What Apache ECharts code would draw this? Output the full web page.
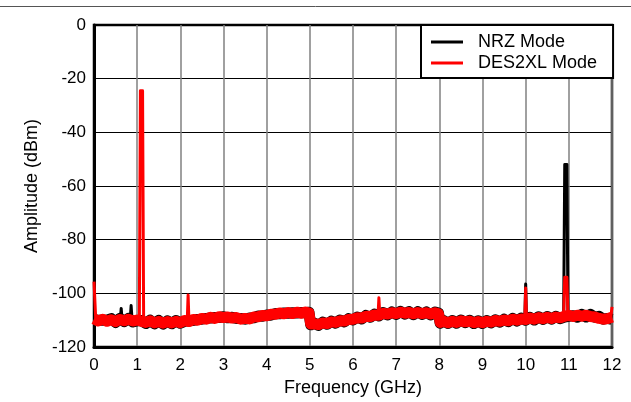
<!DOCTYPE html>
<html>
<head>
<meta charset="utf-8">
<script src="https://cdn.jsdelivr.net/npm/echarts@6/dist/echarts.min.js"></script>
<style>
html,body{margin:0;padding:0;background:#fff;}
#chart{width:631px;height:402px;}
</style>
</head>
<body>
<div id="chart"></div>
<script>
var xTicks = [0,1,2,3,4,5,6,7,8,9,10,11,12];
var yTicks = [0,-20,-40,-60,-80,-100,-120];
var seriesNames = ['NRZ Mode', 'DES2XL Mode'];

// Noise floor (broadband) samples, GHz
var floorFreq = [0,0.1,0.2,0.3,0.4,0.5,0.6,0.7,0.8,0.9,1.0,1.1,1.2,1.3,1.4,1.5,1.6,1.7,1.8,1.9,2.0,2.1,2.2,2.3,2.4,2.5,2.6,2.7,2.8,2.9,3.0,3.1,3.2,3.3,3.4,3.5,3.6,3.7,3.8,3.9,4.0,4.1,4.2,4.3,4.4,4.5,4.6,4.7,4.8,4.9,4.98,5.02,5.1,5.2,5.3,5.4,5.5,5.6,5.7,5.8,5.9,6.0,6.1,6.2,6.3,6.4,6.5,6.6,6.7,6.8,6.9,7.0,7.1,7.2,7.3,7.4,7.5,7.6,7.7,7.8,7.9,7.98,8.02,8.1,8.2,8.3,8.4,8.5,8.6,8.7,8.8,8.9,9.0,9.1,9.2,9.3,9.4,9.5,9.6,9.7,9.8,9.9,10.0,10.1,10.2,10.3,10.4,10.5,10.6,10.7,10.8,10.9,11.0,11.1,11.2,11.3,11.4,11.5,11.6,11.7,11.8,11.9,12.0];
var desFloor = [-109.5,-110.3,-109.6,-110.4,-109.8,-110.5,-109.7,-110.2,-109.6,-110.3,-109.9,-110.4,-110.8,-110.2,-111,-110.4,-111.1,-110.5,-111,-110.4,-110.9,-110.1,-110.5,-109.7,-110,-109.3,-109.6,-108.9,-109.3,-108.7,-109,-108.8,-109.2,-109,-109.6,-109.3,-109.5,-108.8,-108.7,-108.2,-108.3,-107.8,-107.8,-107.3,-107.6,-107.1,-107.5,-107,-107.4,-106.9,-107.3,-111.4,-111.3,-111.6,-111,-111.2,-110.6,-110.8,-110.2,-110.3,-109.7,-109.6,-109.1,-109.2,-108.5,-108.6,-108,-108.1,-107.4,-107.7,-107.2,-107.5,-107,-107.4,-107.1,-107.6,-107.1,-107.5,-107.2,-107.7,-107.2,-107.6,-110.8,-110.4,-110.9,-110.4,-110.8,-110.2,-110.6,-110.3,-110.9,-110.5,-110.9,-110.4,-110.7,-110.1,-110.4,-109.9,-110.2,-109.6,-110,-109.5,-109.7,-109.2,-109.6,-109,-109.4,-108.9,-109.3,-108.8,-109.1,-108.5,-108.2,-108.6,-108.1,-108.5,-108.1,-108.6,-108.8,-109.3,-109.6,-109.4,-108.8];
var nrzFloor = [-109.8,-110,-110,-110,-109.4,-110.8,-109.3,-110.5,-109.3,-110.6,-110.2,-110.1,-111.2,-110,-111.3,-110.1,-111.4,-110.2,-111.3,-110.1,-111.1,-110.4,-110.2,-110.1,-109.7,-109.6,-109.3,-109.2,-109,-109,-108.7,-109.1,-108.9,-109.3,-109.3,-109.6,-109.2,-109.1,-108.4,-108.5,-108,-108.1,-107.5,-107.6,-107.3,-107.4,-107.2,-107.3,-107.1,-107.2,-107,-111.7,-111,-111.9,-110.7,-111.5,-110.3,-111.1,-109.9,-110.6,-109.4,-109.9,-108.8,-109.5,-108.2,-108.9,-107.7,-108.4,-107.1,-108,-106.9,-107.8,-106.7,-107.7,-106.8,-107.9,-106.8,-107.8,-106.9,-108,-106.9,-107.3,-111.1,-110.1,-111.2,-110.1,-111.1,-109.9,-110.9,-110,-111.2,-110.2,-111.2,-110.1,-111,-109.8,-110.7,-109.6,-110.5,-109.3,-110.3,-109.2,-110,-108.9,-109.9,-108.7,-109.7,-108.6,-109.6,-108.5,-109.4,-108.8,-108.5,-108.3,-108.9,-107.8,-108.8,-107.8,-108.9,-108.5,-109.6,-109.3,-109.7,-108.5];

// Discrete tones (null separates each tone)
var desToneFreq = [0,0.04,null,1.05,1.075,1.125,1.15,null,2.16,2.18,2.2,null,6.58,6.6,6.62,null,9.98,10.0,10.02,null,10.88,10.905,10.955,10.98,null,11.97,12.0];
var desToneAmp  = [-95.6,-109.5,null,-110.2,-24.5,-24.5,-110.6,null,-110.3,-100.6,-110.5,null,-108.2,-101.6,-108,null,-109.6,-98,-109.4,null,-108.8,-94,-94,-108.5,null,-109.3,-105];
var nrzToneFreq = [0.61,0.63,0.65,null,0.84,0.86,0.88,null,9.98,10.0,10.02,null,10.88,10.905,10.955,10.98];
var nrzToneAmp  = [-109.6,-105.6,-109.6,null,-109.5,-104.5,-109.5,null,-109.6,-96.5,-109.4,null,-108.8,-52,-52,-108.5];

function pairs(xs, ys){ return xs.map(function(x,i){ return x === null ? [null, null] : [x, ys[i]]; }); }

var chart = echarts.init(document.getElementById('chart'), null, {renderer:'canvas'});
var font = 'Liberation Sans, Arial, sans-serif';
chart.setOption({
  animation: false,
  backgroundColor: '#fff',
  graphic: [{
    type: 'line', shape: {x1: 0, y1: 6.5, x2: 631, y2: 6.5},
    style: {stroke: '#555', lineWidth: 1}, z: 10
  }],
  grid: {left: 94, right: 19, top: 25, bottom: 49, show: true, borderColor: '#000', borderWidth: 2.5, backgroundColor: 'transparent'},
  legend: {
    data: seriesNames,
    orient: 'vertical',
    left: 421, top: 25,
    backgroundColor: '#fff',
    borderColor: '#000',
    borderWidth: 2,
    padding: [8, 16, 6, 10],
    itemGap: 3,
    itemWidth: 32,
    itemHeight: 3,
    icon: 'rect',
    textStyle: {fontFamily: font, fontSize: 18, lineHeight: 18, color: '#000', padding: [0,0,0,10]},
    z: 20
  },
  xAxis: {
    type: 'value', min: 0, max: 12, interval: 1,
    name: 'Frequency (GHz)', nameLocation: 'middle', nameGap: 28,
    nameTextStyle: {fontFamily: font, fontSize: 18, color: '#000'},
    axisLine: {show: true, onZero: false, lineStyle: {color: '#000', width: 3}},
    axisTick: {show: false},
    axisLabel: {fontFamily: font, fontSize: 17, color: '#000', margin: 10,
      formatter: function(v){ return xTicks.indexOf(v) >= 0 ? String(v) : ''; }},
    splitLine: {show: true, lineStyle: {color: '#808080', width: 1.5}}
  },
  yAxis: {
    type: 'value', min: -120, max: 0, interval: 20,
    name: 'Amplitude (dBm)', nameLocation: 'middle', nameGap: 45, nameRotate: 90,
    nameTextStyle: {fontFamily: font, fontSize: 18, color: '#000'},
    axisLine: {show: true, onZero: false, lineStyle: {color: '#000', width: 3}},
    axisTick: {show: false},
    axisLabel: {fontFamily: font, fontSize: 17, color: '#000', margin: 8,
      formatter: function(v){ return yTicks.indexOf(v) >= 0 ? String(v) : ''; }},
    splitLine: {show: true, lineStyle: {color: '#000', width: 1}}
  },
  series: [
    {name: seriesNames[0], type: 'line', data: pairs(floorFreq, nrzFloor), showSymbol: false, symbol: 'none',
      lineStyle: {color: '#000', width: 11, join: 'round'}, itemStyle: {color: '#000'}, z: 2},
    {name: seriesNames[0], type: 'line', data: pairs(nrzToneFreq, nrzToneAmp), showSymbol: false, symbol: 'none', connectNulls: false,
      lineStyle: {color: '#000', width: 3, join: 'round'}, itemStyle: {color: '#000'}, z: 2},
    {name: seriesNames[1], type: 'line', data: pairs(floorFreq, desFloor), showSymbol: false, symbol: 'none',
      lineStyle: {color: '#ff0000', width: 11, join: 'round'}, itemStyle: {color: '#ff0000'}, z: 3},
    {name: seriesNames[1], type: 'line', data: pairs(desToneFreq, desToneAmp), showSymbol: false, symbol: 'none', connectNulls: false,
      lineStyle: {color: '#ff0000', width: 3, join: 'round'}, itemStyle: {color: '#ff0000'}, z: 3}
  ]
});
</script>
</body>
</html>
